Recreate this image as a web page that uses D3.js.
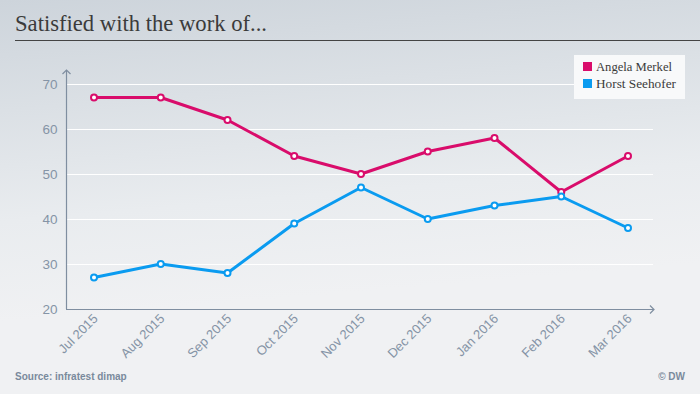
<!DOCTYPE html>
<html><head><meta charset="utf-8">
<script src="https://cdn.jsdelivr.net/npm/d3@7"></script>
<style>body{margin:0;}svg{display:block;}</style>
</head><body>
<script>
const months = ["Jul 2015","Aug 2015","Sep 2015","Oct 2015","Nov 2015","Dec 2015","Jan 2016","Feb 2016","Mar 2016"];
const merkel = [67,67,62,54,50,55,58,46,54];
const seehofer = [27,30,28,39,47,40,43,45,38];
const yTicks = [20,30,40,50,60,70];
const seriesNames = ["Angela Merkel","Horst Seehofer"];
const seriesColors = ["#d90c6b","#0a9bf0"];

const W=700,H=394;
const serif="'Liberation Serif', 'DejaVu Serif', serif";
const sans="'Liberation Sans', Arial, sans-serif";
const svg=d3.select("body").append("svg").attr("width",W).attr("height",H);
const defs=svg.append("defs");
const g1=defs.append("linearGradient").attr("id","bg").attr("x1","0").attr("y1","0").attr("x2","0.15").attr("y2","1");
g1.append("stop").attr("offset","0").attr("stop-color","#cdd4db");
g1.append("stop").attr("offset","0.55").attr("stop-color","#e9ecef");
g1.append("stop").attr("offset","0.8").attr("stop-color","#f0f1f3");
g1.append("stop").attr("offset","1").attr("stop-color","#f0f1f3");
svg.append("rect").attr("width",W).attr("height",H).attr("fill","url(#bg)");

function fitText(sel, target){
  const w=sel.node().getComputedTextLength();
  const fs=parseFloat(sel.attr("font-size"));
  if(w>0) sel.attr("font-size", (fs*target/w).toFixed(2));
}

const title=svg.append("text").attr("x",15).attr("y",31).text("Satisfied with the work of...")
  .attr("font-family",serif).attr("font-size",20).attr("fill","#3b3b3b");
fitText(title,252);
svg.append("line").attr("x1",15).attr("x2",700).attr("y1",40.5).attr("y2",40.5).attr("stroke","#444").attr("stroke-width",1);

const x=d3.scalePoint().domain(months).range([94,628]);
const y=d3.scaleLinear().domain([20,70]).range([309,84]);
const axisColor="#7f8ea0";

// grid
svg.append("g").selectAll("line").data(yTicks.filter(d=>d>20)).join("line")
  .attr("x1",66).attr("x2",653).attr("y1",d=>Math.round(y(d))+0.5).attr("y2",d=>Math.round(y(d))+0.5)
  .attr("stroke","#ffffff").attr("stroke-width",1);

// y axis
const yAxis=d3.axisLeft(y).tickValues(yTicks).tickSize(0).tickPadding(9);
const ya=svg.append("g").attr("transform","translate(66.5,0)").call(yAxis);
ya.select(".domain").remove();
ya.selectAll("text").attr("font-family",sans).attr("font-size",13.5).attr("fill","#8594a6");
svg.append("line").attr("x1",66.5).attr("x2",66.5).attr("y1",70).attr("y2",309).attr("stroke",axisColor).attr("stroke-width",1.2);
svg.append("path").attr("d","M62.5,74 L66.5,70 L70.5,74").attr("fill","none").attr("stroke",axisColor).attr("stroke-width",1.2);

// x axis
const xAxis=d3.axisBottom(x).tickSize(0).tickPadding(0);
const xa=svg.append("g").attr("transform","translate(0,309.5)").call(xAxis);
xa.select(".domain").remove();
xa.selectAll("text").attr("font-family",sans).attr("font-size",13).attr("fill","#8594a6")
  .attr("text-anchor","end").attr("dy",0).attr("transform","translate(4,10) rotate(-45)");
svg.append("line").attr("x1",66).attr("x2",654).attr("y1",309.5).attr("y2",309.5).attr("stroke",axisColor).attr("stroke-width",1.2);
svg.append("path").attr("d","M650,305.5 L654,309.5 L650,313.5").attr("fill","none").attr("stroke",axisColor).attr("stroke-width",1.2);

// lines
const series=[merkel,seehofer];
const line=d3.line().x((d,i)=>x(months[i])).y(d=>y(d));
series.forEach((s,k)=>{
  svg.append("path").datum(s).attr("d",line).attr("fill","none").attr("stroke",seriesColors[k]).attr("stroke-width",3).attr("stroke-linejoin","round");
  svg.append("g").selectAll("circle").data(s).join("circle")
    .attr("cx",(d,i)=>x(months[i])).attr("cy",d=>y(d)).attr("r",3)
    .attr("fill","#fff").attr("stroke",seriesColors[k]).attr("stroke-width",2);
});

// legend
const lg=svg.append("g");
lg.append("rect").attr("x",574).attr("y",55).attr("width",111).attr("height",44).attr("fill","#f8f9fa");
seriesNames.forEach((n,i)=>{
  lg.append("rect").attr("x",583).attr("y",62+i*17).attr("width",9).attr("height",9).attr("fill",seriesColors[i]);
  const t=lg.append("text").attr("x",596).attr("y",71+i*17).text(n)
    .attr("font-family",serif).attr("font-size",13).attr("fill","#3b3b3b");
  fitText(t, i===0?76:80);
});

// footer
svg.append("text").attr("x",15).attr("y",380).text("Source: infratest dimap")
  .attr("font-family",sans).attr("font-weight","bold").attr("font-size",10).attr("fill","#7a8a9c");
svg.append("text").attr("x",685).attr("y",380).attr("text-anchor","end").text("© DW")
  .attr("font-family",sans).attr("font-weight","bold").attr("font-size",10).attr("fill","#7a8a9c");
</script>
</body></html>
